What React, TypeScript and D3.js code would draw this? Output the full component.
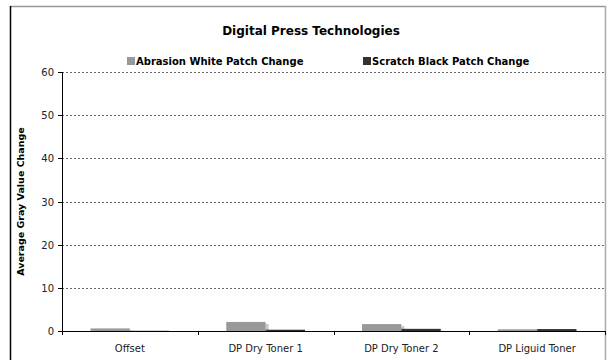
import React from "react";
import * as d3 from "d3";

const categories = ["Offset", "DP Dry Toner 1", "DP Dry Toner 2", "DP Liguid Toner"];
const abrasionWhite = [0.6, 2.1, 1.6, 0.4];
const scratchBlack = [0.05, 0.3, 0.5, 0.45];
const seriesNames = ["Abrasion White Patch Change", "Scratch Black Patch Change"];
const yTicks = [0, 10, 20, 30, 40, 50, 60];

const W = 613, H = 360;
const left = 62, right = 605, top = 72, bottom = 331;
const font = "DejaVu Sans, Verdana, sans-serif";

export default function App() {
  const x = d3.scaleBand<string>().domain(categories).range([left, right]).paddingInner(0).paddingOuter(0);
  const y = d3.scaleLinear().domain([0, 60]).range([bottom, top]);
  const groupW = x.bandwidth() * 0.58;
  const inner = d3.scaleBand<number>().domain([0, 1]).range([0, groupW]);
  const colors = ["#999999", "#333333"];
  const sideColors = ["#c8c8c8", "#555555"];
  const series = [abrasionWhite, scratchBlack];

  return (
    <svg width={W} height={H} style={{ position: "absolute", left: 0, top: 0, background: "#fff" }}>
      <rect x={0} y={0} width={W} height={H} fill="#fff" />
      {/* frame */}
      <line x1={10} x2={606} y1={6.5} y2={6.5} stroke="#999" strokeWidth={1.5} />
      <line x1={10.5} x2={10.5} y1={6} y2={H} stroke="#000" strokeWidth={1.5} />
      <line x1={605.5} x2={605.5} y1={6} y2={H} stroke="#aaa" strokeWidth={1.5} />

      <text x={311} y={35} textAnchor="middle" fontFamily={font} fontWeight="bold" fontSize={12}>Digital Press Technologies</text>

      {/* legend */}
      {[127, 363].map((lx, i) => (
        <g key={i}>
          <rect x={lx} y={57} width={8} height={8} fill={colors[i]} />
          <text x={lx + 9} y={65} fontFamily={font} fontWeight="bold" fontSize={10}>{seriesNames[i]}</text>
        </g>
      ))}

      {/* gridlines */}
      {yTicks.filter((t) => t > 0).map((t) => (
        <line key={t} x1={left} x2={right} y1={Math.round(y(t)) + 0.5} y2={Math.round(y(t)) + 0.5} stroke="#666" strokeDasharray="2,2" strokeWidth={1} />
      ))}

      {/* bars */}
      {categories.map((c, ci) => {
        const gx = (x(c) as number) + (x.bandwidth() - groupW) / 2;
        return series.map((s, si) => {
          const bx = gx + (inner(si) as number);
          const bw = inner.bandwidth();
          const by = y(s[ci]);
          const h = bottom - by;
          return (
            <g key={`${ci}-${si}`}>
              <rect x={bx + bw} y={by + 2} width={3} height={Math.max(0, h - 2)} fill={sideColors[si]} />
              <rect x={bx} y={by} width={bw} height={h} fill={colors[si]} />
            </g>
          );
        });
      })}

      {/* y axis */}
      <line x1={left + 0.5} x2={left + 0.5} y1={top} y2={bottom} stroke="#000" />
      {yTicks.map((t) => (
        <g key={t}>
          <line x1={left - 4} x2={left} y1={Math.round(y(t)) + 0.5} y2={Math.round(y(t)) + 0.5} stroke="#000" />
          <text x={left - 8} y={y(t) + 4} textAnchor="end" fontFamily={font} fontSize={10} fill="#222">{t}</text>
        </g>
      ))}
      <text transform={`translate(24,${(top + bottom) / 2}) rotate(-90)`} textAnchor="middle" fontFamily={font} fontWeight="bold" fontSize={9.5}>Average Gray Value Change</text>

      {/* x axis */}
      <line x1={left} x2={right} y1={bottom + 0.5} y2={bottom + 0.5} stroke="#000" />
      {[...categories.map((c) => x(c) as number), right].map((tx, i) => (
        <line key={i} x1={Math.round(tx) + 0.5} x2={Math.round(tx) + 0.5} y1={bottom} y2={bottom + 4} stroke="#000" />
      ))}
      {categories.map((c) => (
        <text key={c} x={(x(c) as number) + x.bandwidth() / 2} y={352} textAnchor="middle" fontFamily={font} fontSize={10} fill="#222">{c}</text>
      ))}
    </svg>
  );
}
